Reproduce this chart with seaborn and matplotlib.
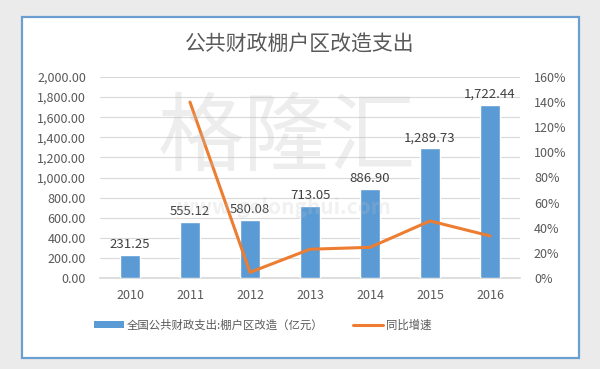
import numpy as np
import pandas as pd
import matplotlib
matplotlib.use("Agg")
import matplotlib.pyplot as plt
from matplotlib.patches import Rectangle, Patch
from matplotlib.lines import Line2D
from matplotlib.ticker import FuncFormatter, MultipleLocator
import seaborn as sns

years = ["2010", "2011", "2012", "2013", "2014", "2015", "2016"]
spending = [231.25, 555.12, 580.08, 713.05, 886.90, 1289.73, 1722.44]
growth_years = ["2011", "2012", "2013", "2014", "2015", "2016"]
growth = [140.0, 4.5, 22.9, 24.4, 45.4, 33.5]

title = "公共财政棚户区改造支出"
bar_label = "全国公共财政支出:棚户区改造（亿元）"
line_label = "同比增速"

sns.set_theme(style="white")
plt.rcParams["font.family"] = ["Noto Sans CJK SC", "DejaVu Sans"]

W, H = 600, 369
fig = plt.figure(figsize=(W / 100, H / 100), dpi=100)
fig.patch.set_facecolor("#ebebeb")

# white panel with blue border
panel = Rectangle((22 / W, 1 - 358 / H), (579 - 22) / W, (358 - 17) / H,
                  transform=fig.transFigure, facecolor="white",
                  edgecolor="#6a9fd0", linewidth=1.6, zorder=-5)
fig.patches.append(panel)

ax = fig.add_axes([100 / W, 1 - 278 / H, 420 / W, 201 / H])
ax.set_facecolor("none")

blue = "#5b9bd5"
orange = "#ed7d31"
txt = "#595959"

df = pd.DataFrame({"year": years, "value": spending})
sns.barplot(data=df, x="year", y="value", ax=ax, color=blue, width=0.33,
            saturation=1, zorder=3)

ax.set_ylim(0, 2000)
ax.yaxis.set_major_locator(MultipleLocator(200))
ax.yaxis.set_major_formatter(FuncFormatter(lambda v, p: f"{v:,.2f}"))
ax.set_xlim(-0.5, len(years) - 0.5)
ax.grid(axis="y", color="#d9d9d9", linewidth=0.8, zorder=0)
ax.set_axisbelow(True)
ax.set_xlabel("")
ax.set_ylabel("")
for s in ["top", "right", "left"]:
    ax.spines[s].set_visible(False)
ax.spines["bottom"].set_color("#d9d9d9")
ax.tick_params(axis="y", length=0, labelsize=9, labelcolor=txt, pad=10)
ax.tick_params(axis="x", length=0, labelsize=9, labelcolor=txt, pad=8)
ax.set_xticks(np.arange(len(years)) - 0.5, minor=True)
ax.tick_params(axis="x", which="minor", length=4, color="#d9d9d9", width=0.8)

for i, v in enumerate(spending):
    ax.text(i, v + 40, f"{v:,.2f}", ha="center", va="bottom",
            fontsize=9.5, color="#404040", zorder=5)

ax2 = ax.twinx()
ax2.set_facecolor("none")
xpos = [years.index(y) for y in growth_years]
sns.lineplot(x=xpos, y=growth, ax=ax2, color=orange, linewidth=2.2, zorder=4)
ax2.set_ylim(0, 160)
ax2.set_xlim(-0.5, len(years) - 0.5)
ax2.yaxis.set_major_locator(MultipleLocator(20))
ax2.yaxis.set_major_formatter(FuncFormatter(lambda v, p: f"{v:.0f}%"))
ax2.tick_params(axis="y", length=0, labelsize=9, labelcolor=txt, pad=10)
ax2.grid(False)
for s in ax2.spines.values():
    s.set_visible(False)
ax2.set_ylabel("")

# watermark
fig.text(287 / W, 1 - 140 / H, "格隆汇", ha="center", va="center",
         fontsize=62, color="#c0c0c0", alpha=0.28, zorder=10)
fig.text(284 / W, 1 - 208 / H, "www.gelonghui.com", ha="center", va="center",
         fontsize=15, fontweight="bold", color="#c0c0c0", alpha=0.22,
         zorder=10)

fig.text(300 / W, 1 - 45 / H, title, ha="center", va="center",
         fontsize=15, color=txt)

handles = [Patch(facecolor=blue, edgecolor="none"),
           Line2D([0], [0], color=orange, linewidth=2.2)]
leg = fig.legend(handles, [bar_label, line_label], loc="center",
                 bbox_to_anchor=(263 / W, 1 - 325 / H), ncol=2, frameon=False,
                 fontsize=8.2, handlelength=2.6, handleheight=0.5,
                 columnspacing=2.6, handletextpad=0.3)
for t in leg.get_texts():
    t.set_color(txt)

fig.savefig("out.png", dpi=100, facecolor=fig.get_facecolor())
